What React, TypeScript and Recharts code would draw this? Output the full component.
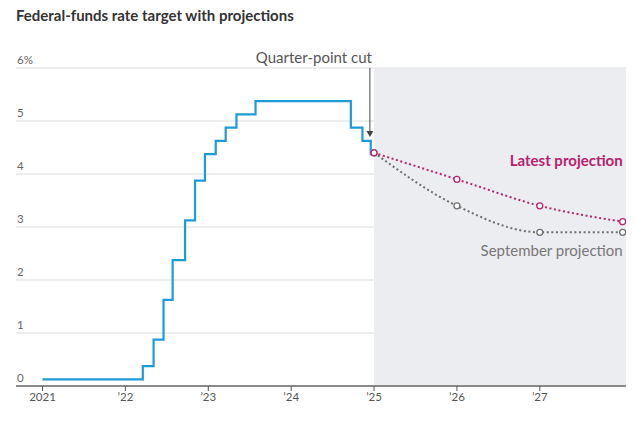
import React from 'react';
import {
  ComposedChart, Line, XAxis, YAxis, CartesianGrid, ReferenceArea, ReferenceDot, ReferenceLine
} from 'recharts';

// fed funds target (midpoint of range), decimal year of each change
const rateDates = [2021.0, 2022.21, 2022.34, 2022.46, 2022.57, 2022.72, 2022.84, 2022.96, 2023.09, 2023.21, 2023.34, 2023.57, 2024.72, 2024.86, 2024.96, 2025.0];
const rateValues = [0.125, 0.375, 0.875, 1.625, 2.375, 3.125, 3.875, 4.375, 4.625, 4.875, 5.125, 5.375, 4.875, 4.625, 4.375, 4.375];

const projYears = [2025, 2026, 2027, 2028];
const latestProjection = [4.4, 3.9, 3.4, 3.1];
const septemberProjection = [4.4, 3.4, 2.9, 2.9];

const xTicks = [2021, 2022, 2023, 2024, 2025, 2026, 2027];
const yTicks = [0, 1, 2, 3, 4, 5, 6];

const BLUE = '#1b9bd7';
const PINK = '#b5226d';
const GREY = '#6e6e6e';
const FONT = 'Lato, "Noto Sans", sans-serif';

const rateData = rateDates.map((x, i) => ({ x, y: rateValues[i] }));
const latestData = projYears.map((x, i) => ({ x, y: latestProjection[i] }));
const septData = projYears.map((x, i) => ({ x, y: septemberProjection[i] }));

const fmtYear = (v: number) => (v === 2021 ? '2021' : '\u2019' + String(v).slice(2));

const YTick = (props: any) => {
  const { y, payload } = props;
  return (
    <text x={17} y={y - 4} fontSize={11.5} fill="#666" fontFamily={FONT}>
      {payload.value === 6 ? '6%' : payload.value}
    </text>
  );
};

const openDot = (color: string) => ({
  r: 3, fill: '#fff', stroke: color, strokeWidth: 1.3, strokeDasharray: 'none',
});

export default function App() {
  return (
    <div style={{ position: 'relative', width: 636, height: 421, fontFamily: FONT }}>
      <style>{'body{margin:0}'}</style>
      <div style={{ position: 'absolute', left: 16, top: 6, fontSize: 15, fontWeight: 700, color: '#333' }}>
        Federal-funds rate target with projections
      </div>
      <ComposedChart width={636} height={421} margin={{ top: 68, right: 10, bottom: 0, left: 15 }}>
        <ReferenceArea x1={2025} x2={2028.04} y1={0} y2={6} fill="#ecedf0" fillOpacity={1} stroke="none" />
        <CartesianGrid vertical={false} stroke="#dcdcdc" />
        <XAxis
          type="number"
          dataKey="x"
          domain={[2020.68, 2028.04]}
          ticks={xTicks}
          allowDataOverflow
          tickFormatter={fmtYear}
          axisLine={{ stroke: '#8a8a8a', strokeWidth: 2 }}
          tickLine={{ stroke: '#555' }}
          tickSize={5}
          tick={{ fontSize: 11.5, fill: '#555', fontFamily: FONT }}
          height={35}
        />
        <YAxis
          type="number"
          domain={[0, 6]}
          ticks={yTicks}
          width={1}
          axisLine={false}
          tickLine={false}
          tick={(p: any) => <YTick {...p} />}
        />
        <Line data={rateData} dataKey="y" type="stepAfter" stroke={BLUE} strokeWidth={2.2} dot={false} isAnimationActive={false} />
        <Line data={septData} dataKey="y" type="monotone" stroke={GREY} strokeWidth={2} strokeDasharray="2 2.6" dot={openDot(GREY)} isAnimationActive={false} />
        <Line data={latestData} dataKey="y" type="monotone" stroke={PINK} strokeWidth={2} strokeDasharray="2 2.6" dot={openDot(PINK)} isAnimationActive={false} />
        <ReferenceLine segment={[{ x: 2024.95, y: 6 }, { x: 2024.95, y: 4.78 }]} stroke="#444" strokeWidth={1} />
        <ReferenceDot
          x={2024.95}
          y={4.7}
          r={0}
          shape={(p: any) => (
            <path d={`M${p.cx - 3.5},${p.cy - 6}L${p.cx + 3.5},${p.cy - 6}L${p.cx},${p.cy}Z`} fill="#444" />
          )}
        />
        <ReferenceDot
          x={2024.95}
          y={6}
          r={0}
          shape={(p: any) => (
            <text x={p.cx + 2} y={p.cy - 5} textAnchor="end" fontSize={15} fill="#555" fontFamily={FONT}>
              Quarter-point cut
            </text>
          )}
        />
        <ReferenceDot
          x={2028}
          y={4.25}
          r={0}
          shape={(p: any) => (
            <text x={p.cx} y={p.cy + 5} textAnchor="end" fontSize={15} fontWeight={700} fill={PINK} fontFamily={FONT}>
              Latest projection
            </text>
          )}
        />
        <ReferenceDot
          x={2028}
          y={2.55}
          r={0}
          shape={(p: any) => (
            <text x={p.cx} y={p.cy + 5} textAnchor="end" fontSize={15} fill="#777" fontFamily={FONT}>
              September projection
            </text>
          )}
        />
      </ComposedChart>
    </div>
  );
}
